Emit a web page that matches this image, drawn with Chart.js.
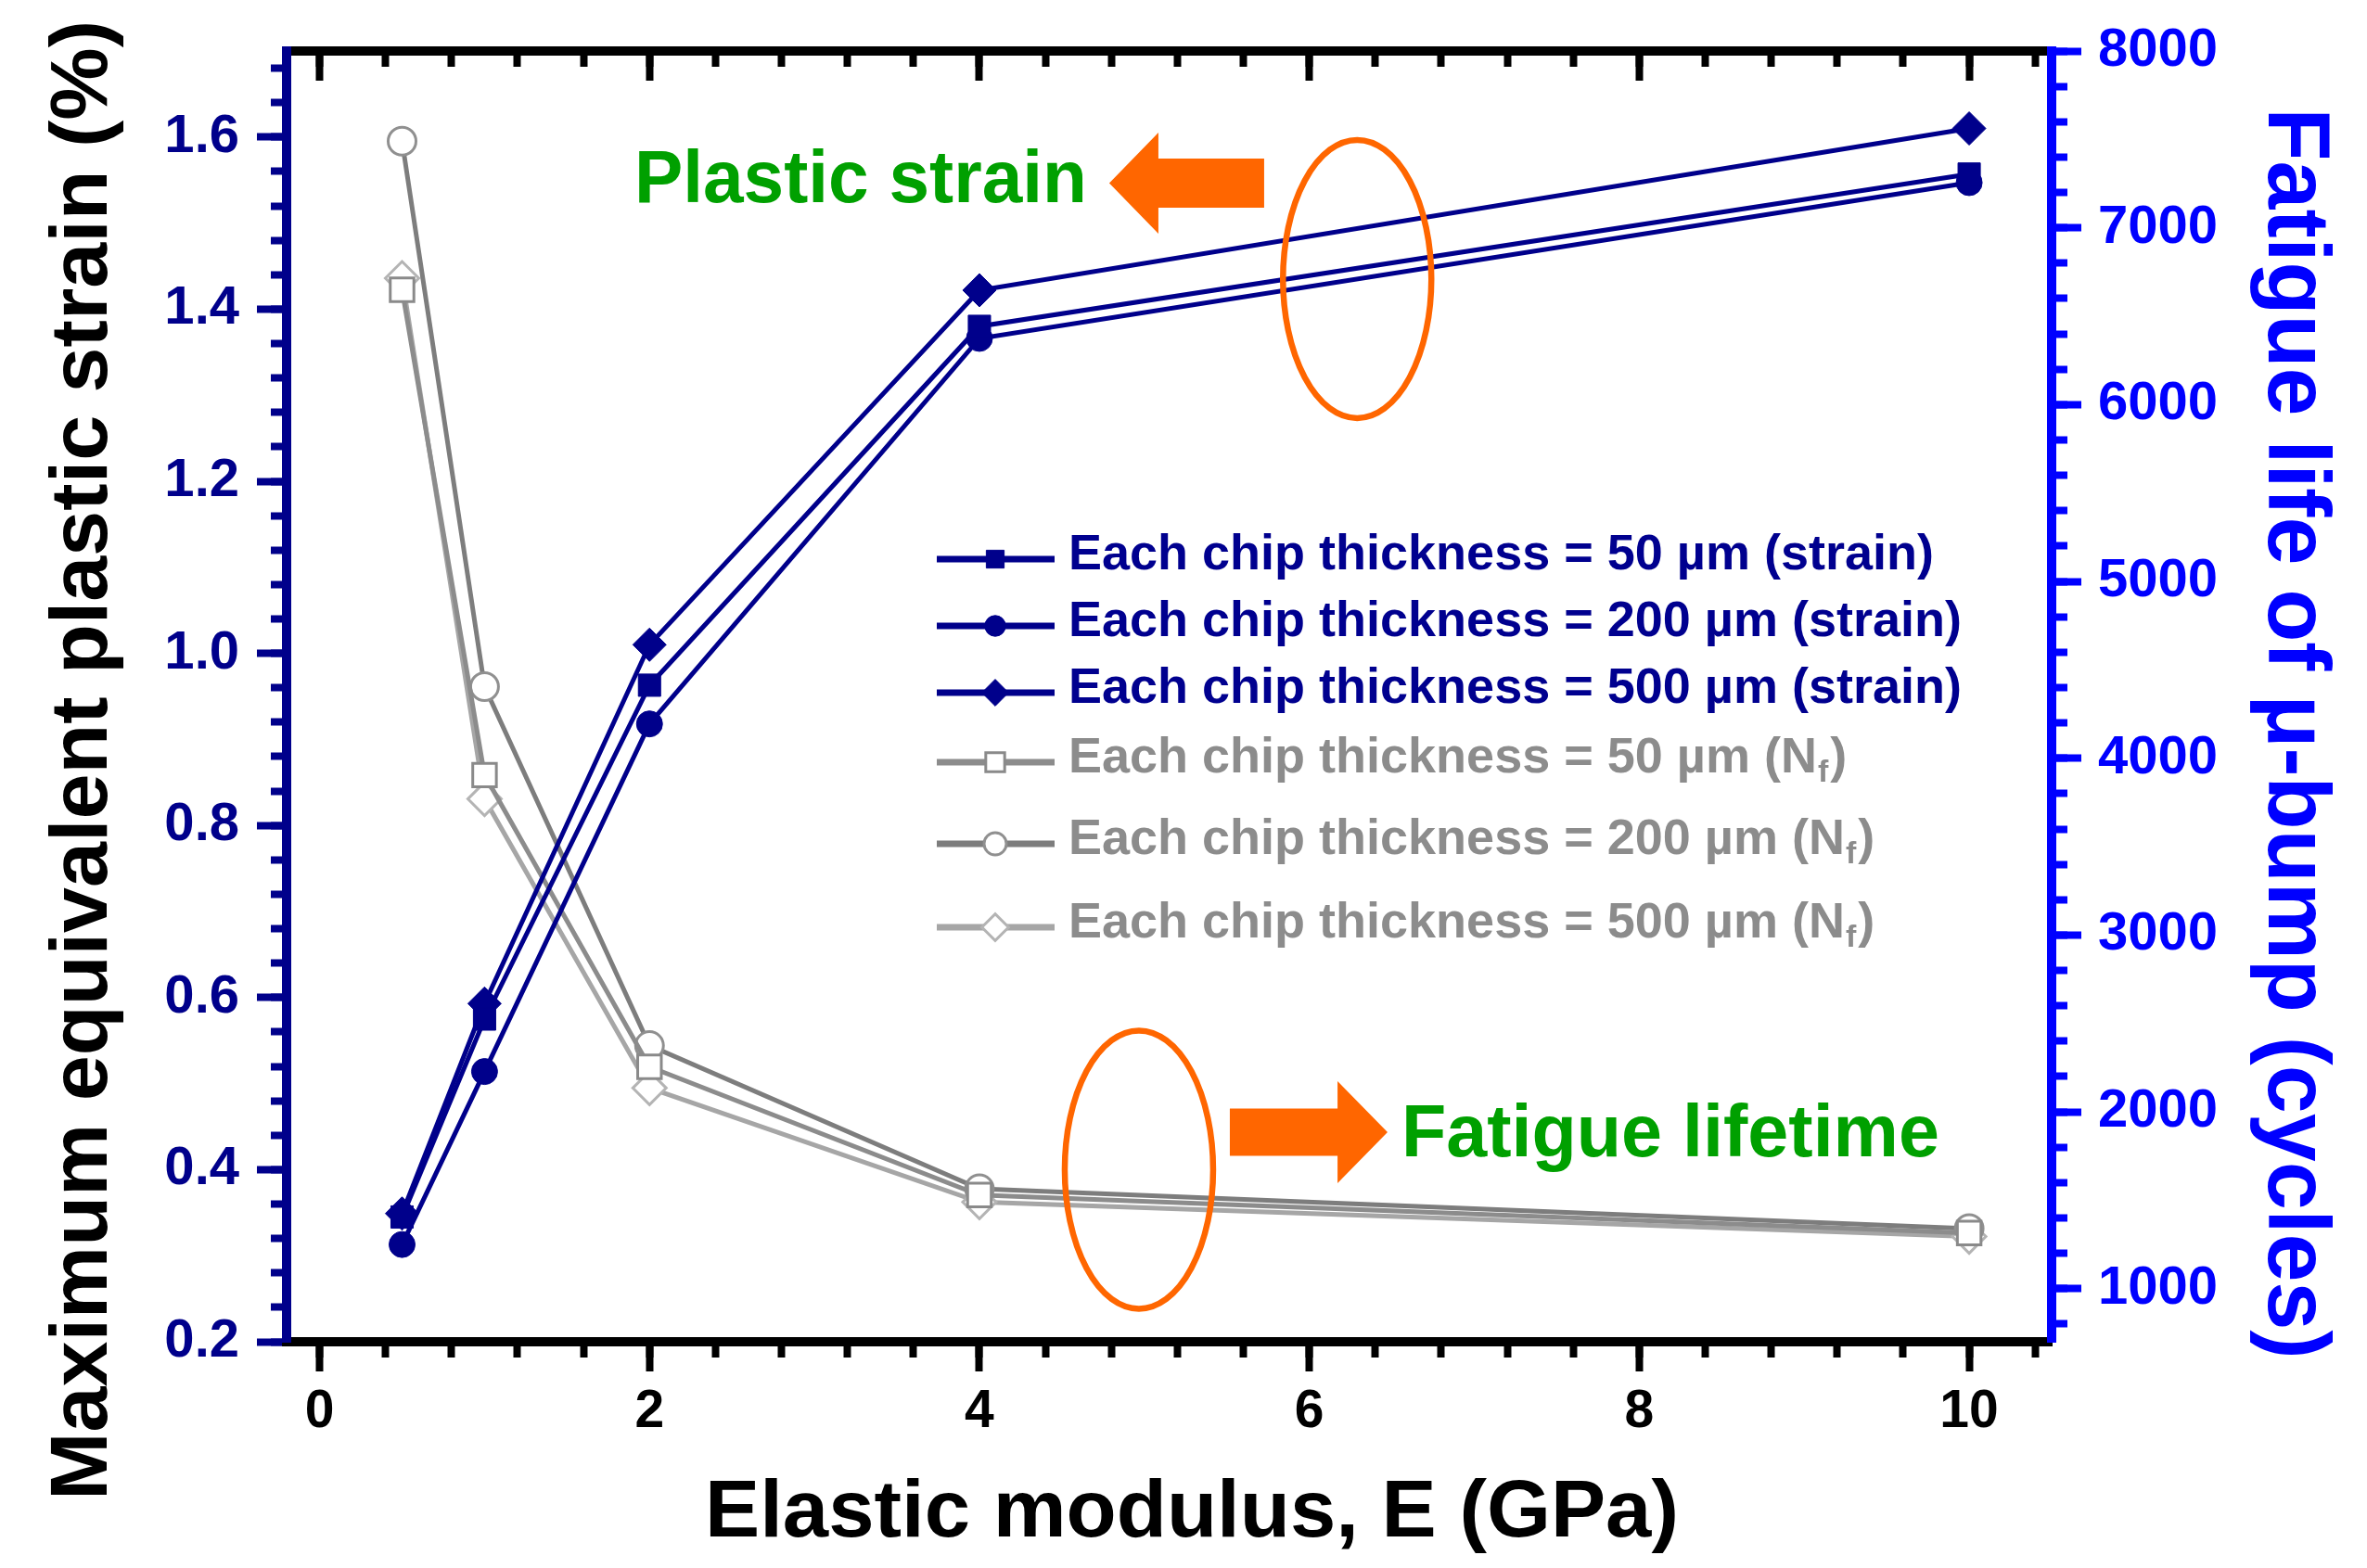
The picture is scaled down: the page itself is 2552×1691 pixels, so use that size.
<!DOCTYPE html>
<html>
<head>
<meta charset="utf-8">
<script src="https://cdn.jsdelivr.net/npm/chart.js@4.4.1/dist/chart.umd.min.js"></script>
<style>
  html, body { margin: 0; padding: 0; background: #fff; }
  canvas { display: block; }
</style>
</head>
<body>
<canvas id="plot" width="2552" height="1691"></canvas>
<script>
// elastic modulus E (GPa)
const modulus = [0.5, 1, 2, 4, 10];

// maximum equivalent plastic strain (%) - left axis
const strain50  = [0.345, 0.575, 0.963, 1.380, 1.557];
const strain200 = [0.313, 0.514, 0.918, 1.366, 1.547];
const strain500 = [0.349, 0.593, 1.010, 1.422, 1.610];

// fatigue life of u-bump (cycles) - right axis
const life50  = [6650, 3905, 2255, 1530, 1315];
const life200 = [7490, 4405, 2375, 1565, 1340];
const life500 = [6715, 3770, 2135, 1490, 1295];

const thickness = ['50', '200', '500'];

const xTickValues = [0, 2, 4, 6, 8, 10];
const strainTickValues = [0.2, 0.4, 0.6, 0.8, 1.0, 1.2, 1.4, 1.6];
const lifeTickValues = [1000, 2000, 3000, 4000, 5000, 6000, 7000, 8000];

const NAVY = '#00008b';
const BLUE = '#0000ff';
const GREEN = '#00a000';
const ORANGE = '#ff6600';
const FONT = '"Liberation Sans", Arial, Helvetica, sans-serif';

Chart.defaults.font.family = FONT;

function steps(from, to, step) {
  const out = [];
  for (let v = from; v <= to + 1e-9; v += step) out.push(+v.toFixed(4));
  return out;
}
const pts = ys => modulus.map((m, i) => ({x: m, y: ys[i]}));
const useTicks = values => (s => { s.ticks = values.map(v => ({value: v})); });

function strainSet(i, ys, style, r) {
  return {
    label: 'Each chip thickness = ' + thickness[i] + ' \u00b5m (strain)',
    kind: 'strain', data: pts(ys), xAxisID: 'x', yAxisID: 'y',
    borderColor: NAVY, backgroundColor: NAVY, borderWidth: 5,
    pointStyle: style, pointRadius: r, pointBackgroundColor: NAVY,
    pointBorderColor: NAVY, pointBorderWidth: 1
  };
}
function lifeSet(i, ys, style, r, lineColor, markColor) {
  return {
    label: 'Each chip thickness = ' + thickness[i] + ' \u00b5m (N',
    kind: 'life', data: pts(ys), xAxisID: 'x', yAxisID: 'y1',
    borderColor: lineColor, backgroundColor: '#fff', borderWidth: 5,
    pointStyle: style, pointRadius: r, pointBackgroundColor: '#fff',
    pointBorderColor: markColor, pointBorderWidth: 3
  };
}

const datasets = [
  strainSet(0, strain50, 'rect', 17),
  strainSet(1, strain200, 'circle', 14),
  strainSet(2, strain500, 'rectRot', 18),
  lifeSet(0, life50, 'rect', 18, '#8c8c8c', '#8a8a8a'),
  lifeSet(1, life200, 'circle', 15, '#7d7d7d', '#909090'),
  lifeSet(2, life500, 'rectRot', 18, '#a6a6a6', '#b4b4b4')
];

const majorGrid = (color, len) => ({drawOnChartArea: false, drawTicks: true, tickLength: len, tickWidth: 8, tickColor: color});
const noLabels = {display: false};

function fitText(ctx, text, x, y, width, rot, align) {
  ctx.save();
  ctx.translate(x, y);
  ctx.rotate(rot);
  const w = ctx.measureText(text).width;
  ctx.scale(width / w, 1);
  ctx.textAlign = align || 'center';
  ctx.fillText(text, 0, 0);
  ctx.restore();
}

function blockArrow(ctx, tailX, baseX, tipX, cy, shaftHalf, headHalf) {
  ctx.beginPath();
  ctx.moveTo(tailX, cy - shaftHalf);
  ctx.lineTo(baseX, cy - shaftHalf);
  ctx.lineTo(baseX, cy - headHalf);
  ctx.lineTo(tipX, cy);
  ctx.lineTo(baseX, cy + headHalf);
  ctx.lineTo(baseX, cy + shaftHalf);
  ctx.lineTo(tailX, cy + shaftHalf);
  ctx.closePath();
  ctx.fill();
}

// legend rows, offset from top of plot area
const legendRows = [548, 620, 692, 767, 855, 945];

const decorations = {
  id: 'decorations',
  afterDraw(chart) {
    const {ctx, chartArea: area, scales} = chart;
    const px = v => scales.x.getPixelForValue(v);
    const py = v => scales.y.getPixelForValue(v);
    ctx.save();
    ctx.textBaseline = 'alphabetic';

    // axis titles
    ctx.fillStyle = '#000';
    ctx.font = 'bold 88px ' + FONT;
    fitText(ctx, 'Elastic modulus, E (GPa)', area.left + 976, area.bottom + 210, 1050, 0);
    fitText(ctx, 'Maximum equivalent plastic strain (%)', area.left - 194, area.top + 765, 1596, -Math.PI / 2);
    ctx.fillStyle = BLUE;
    ctx.font = 'bold 94px ' + FONT;
    fitText(ctx, 'Fatigue life of \u03bc-bump (cycles)', area.right + 234, area.top + 736, 1349, Math.PI / 2);

    // annotations
    ctx.strokeStyle = ORANGE;
    ctx.lineWidth = 6.5;
    ctx.beginPath();
    ctx.ellipse(px(6.29), py(1.435), 80, 150, 0, 0, Math.PI * 2);
    ctx.stroke();
    ctx.beginPath();
    ctx.ellipse(px(4.967), py(0.40), 80, 150, 0, 0, Math.PI * 2);
    ctx.stroke();
    ctx.fillStyle = ORANGE;
    blockArrow(ctx, px(5.726), px(5.085), px(4.787), py(1.5465), 26.5, 54.5);
    blockArrow(ctx, px(5.518), px(6.171), px(6.474), py(0.4435), 25.5, 55);
    ctx.fillStyle = GREEN;
    ctx.font = 'bold 79px ' + FONT;
    fitText(ctx, 'Plastic strain', px(1.908), py(1.524), 488, 0, 'left');
    fitText(ctx, 'Fatigue lifetime', px(6.558), py(0.4155), 580, 0, 'left');

    // legend
    const x0 = area.left + 701, x1 = area.left + 828, xm = area.left + 764, xt = area.left + 843;
    chart.data.datasets.forEach((ds, i) => {
      const y = area.top + legendRows[i];
      ctx.strokeStyle = ds.borderColor;
      ctx.lineWidth = 7;
      ctx.beginPath();
      ctx.moveTo(x0, y);
      ctx.lineTo(x1, y);
      ctx.stroke();
      ctx.fillStyle = ds.pointBackgroundColor;
      ctx.strokeStyle = ds.pointBorderColor;
      ctx.lineWidth = ds.pointBorderWidth;
      Chart.helpers.drawPoint(ctx, {pointStyle: ds.pointStyle, radius: ds.pointRadius * 0.8, borderWidth: ds.pointBorderWidth, rotation: 0}, xm, y);

      ctx.textBaseline = 'middle';
      ctx.textAlign = 'left';
      ctx.font = 'bold 54px ' + FONT;
      if (ds.kind === 'strain') {
        ctx.fillStyle = '#00008f';
        ctx.fillText(ds.label, xt, y - 4);
      } else {
        ctx.fillStyle = '#8c8c8c';
        ctx.fillText(ds.label, xt, y - 4);
        let w = ctx.measureText(ds.label).width;
        ctx.font = 'bold 34px ' + FONT;
        ctx.fillText('f', xt + w + 1, y + 12);
        w += ctx.measureText('f').width + 3;
        ctx.font = 'bold 54px ' + FONT;
        ctx.fillText(')', xt + w, y - 4);
      }
    });
    ctx.restore();
  }
};

new Chart(document.getElementById('plot').getContext('2d'), {
  type: 'line',
  data: {datasets},
  options: {
    responsive: false,
    animation: false,
    devicePixelRatio: 1,
    layout: {padding: 0, autoPadding: false},
    plugins: {legend: {display: false}, tooltip: {enabled: false}},
    scales: {
      x: {
        type: 'linear', position: 'bottom', weight: 1, min: -0.2, max: 10.5, bounds: 'data',
        afterBuildTicks: useTicks(xTickValues),
        afterFit: s => { s.height = 244; },
        grid: majorGrid('#000', 32),
        border: {display: true, color: '#000', width: 10},
        ticks: {color: '#000', font: {size: 57, weight: 'bold'}, padding: 10, maxRotation: 0, autoSkip: false, callback: v => String(v)}
      },
      xMinor: {
        type: 'linear', position: 'bottom', weight: 0, min: -0.2, max: 10.5, bounds: 'data',
        afterBuildTicks: useTicks(steps(0, 10.4, 0.4)),
        afterFit: s => { s.height = 0; },
        grid: majorGrid('#000', 17), border: {display: false}, ticks: noLabels
      },
      xTop: {
        type: 'linear', position: 'top', weight: 1, min: -0.2, max: 10.5, bounds: 'data',
        afterBuildTicks: useTicks(xTickValues),
        afterFit: s => { s.height = 55; },
        grid: majorGrid('#000', -32),
        border: {display: true, color: '#000', width: 10}, ticks: noLabels
      },
      xTopMinor: {
        type: 'linear', position: 'top', weight: 0, min: -0.2, max: 10.5, bounds: 'data',
        afterBuildTicks: useTicks(steps(0, 10.4, 0.4)),
        afterFit: s => { s.height = 0; },
        grid: majorGrid('#000', -17), border: {display: false}, ticks: noLabels
      },
      y: {
        type: 'linear', position: 'left', weight: 1, min: 0.2, max: 1.7, bounds: 'data',
        afterBuildTicks: useTicks(strainTickValues),
        afterFit: s => { s.width = 309; },
        grid: majorGrid(NAVY, 32),
        border: {display: true, color: NAVY, width: 10},
        ticks: {color: NAVY, font: {size: 58, weight: 'bold'}, padding: 19, autoSkip: false, callback: v => v.toFixed(1)}
      },
      yMinor: {
        type: 'linear', position: 'left', weight: 0, min: 0.2, max: 1.7, bounds: 'data',
        afterBuildTicks: useTicks(steps(0.2, 1.68, 0.04)),
        afterFit: s => { s.width = 0; },
        grid: majorGrid(NAVY, 17), border: {display: false}, ticks: noLabels
      },
      y1: {
        type: 'linear', position: 'right', weight: 1, min: 700, max: 8000, bounds: 'data',
        afterBuildTicks: useTicks(lifeTickValues),
        afterFit: s => { s.width = 340; },
        grid: majorGrid(BLUE, 32),
        border: {display: true, color: BLUE, width: 10},
        ticks: {color: BLUE, font: {size: 58, weight: 'bold'}, padding: 18, autoSkip: false, callback: v => String(v)}
      },
      y1Minor: {
        type: 'linear', position: 'right', weight: 0, min: 700, max: 8000, bounds: 'data',
        afterBuildTicks: useTicks(steps(800, 8000, 200)),
        afterFit: s => { s.width = 0; },
        grid: majorGrid(BLUE, 17), border: {display: false}, ticks: noLabels
      }
    }
  },
  plugins: [decorations]
});
</script>
</body>
</html>
